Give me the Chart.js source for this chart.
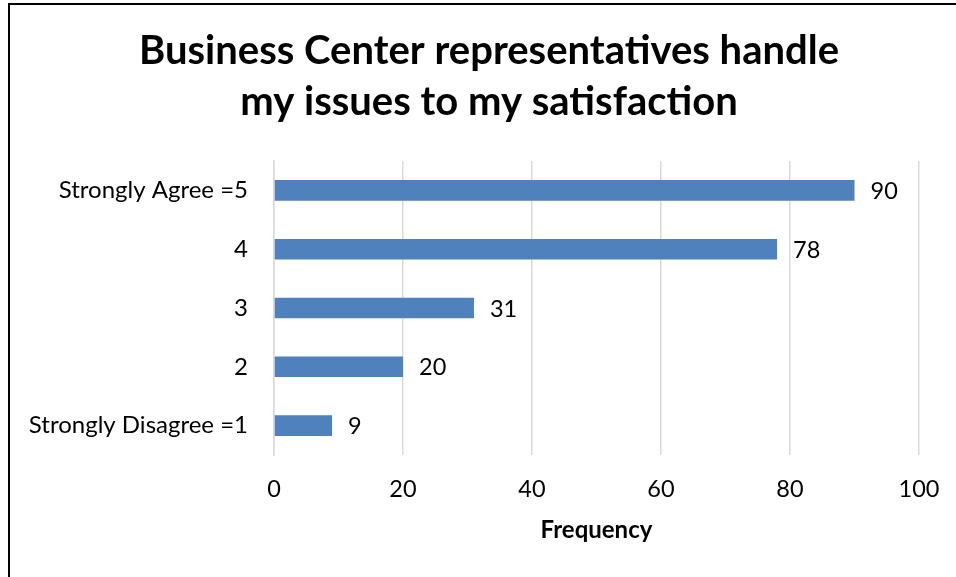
<!DOCTYPE html>
<html>
<head>
<meta charset="utf-8">
<script src="https://cdn.jsdelivr.net/npm/chart.js@4"></script>
<style>
  html, body { margin: 0; padding: 0; background: #fff; overflow: hidden; }
  #frame {
    position: absolute; left: 8px; top: 3px; width: 1200px; height: 800px;
    border-left: 2px solid #000; border-top: 2px solid #000;
  }
  #chart { position: absolute; left: 0; top: 0; }
</style>
</head>
<body>
<div id="frame"></div>
<canvas id="chart" width="956" height="577"></canvas>
<script>
// Survey answers and how many people gave each one
const categories = ["Strongly Agree =5", "4", "3", "2", "Strongly Disagree =1"];
const frequency = [90, 78, 31, 20, 9];
const xTicks = [0, 20, 40, 60, 80, 100];

const FONT = "Lato, 'Open Sans', sans-serif";
const LABEL_SIZE = 23.5;

// Writes the value just past the end of each bar
const valueLabels = {
  id: "valueLabels",
  afterDatasetsDraw(chart) {
    const ctx = chart.ctx;
    const meta = chart.getDatasetMeta(0);
    ctx.save();
    ctx.font = LABEL_SIZE + "px " + FONT;
    ctx.fillStyle = "#000";
    ctx.textAlign = "left";
    ctx.textBaseline = "middle";
    meta.data.forEach((bar, i) => {
      ctx.fillText(String(frequency[i]), bar.x + 16, bar.y + 1);
    });
    ctx.restore();
  }
};

// Centre the title on the whole frame rather than on the padded layout box
const titleCentre = {
  id: "titleCentre",
  afterLayout(chart) {
    if (chart.titleBlock) {
      chart.titleBlock.left = 22;
      chart.titleBlock.right = chart.width;
    }
  }
};

const config = {
  type: "bar",
  data: {
    labels: categories,
    datasets: [{
      data: frequency,
      backgroundColor: "#4f81bd",
      borderWidth: 0,
      barPercentage: 0.35,
      categoryPercentage: 1
    }]
  },
  options: {
    indexAxis: "y",
    responsive: false,
    animation: false,
    layout: { padding: { left: 0, right: 37, top: 0, bottom: 0 } },
    plugins: {
      legend: { display: false },
      tooltip: { enabled: false },
      title: {
        display: true,
        text: ["Business Center representatives handle", "my issues to my satisfaction"],
        color: "#000",
        font: { family: FONT, size: 40, weight: "bold", lineHeight: 51 / 40 },
        padding: { top: 26, bottom: 33 }
      }
    },
    scales: {
      x: {
        min: 0,
        max: 100,
        afterBuildTicks: (scale) => { scale.ticks = xTicks.map(v => ({ value: v })); },
        afterFit: (scale) => {
          scale.height = 122;
          scale.paddingLeft = 0;
          scale.paddingRight = 0;
        },
        grid: { color: "#d9d9d9", lineWidth: 1.5, drawTicks: false },
        border: { display: false },
        ticks: { color: "#000", font: { family: FONT, size: LABEL_SIZE }, padding: 20 },
        title: {
          display: true,
          text: "Frequency",
          color: "#000",
          font: { family: FONT, size: 24, weight: "bold" },
          padding: { top: 0, bottom: 32 }
        }
      },
      y: {
        afterFit: (scale) => { scale.width = 274; },
        grid: { display: false, drawTicks: false },
        border: { display: true, color: "#d9d9d9", width: 1.5 },
        ticks: { color: "#000", font: { family: FONT, size: 24 }, padding: 26 }
      }
    }
  },
  plugins: [valueLabels, titleCentre]
};

new Chart(document.getElementById("chart").getContext("2d"), config);
</script>
</body>
</html>
